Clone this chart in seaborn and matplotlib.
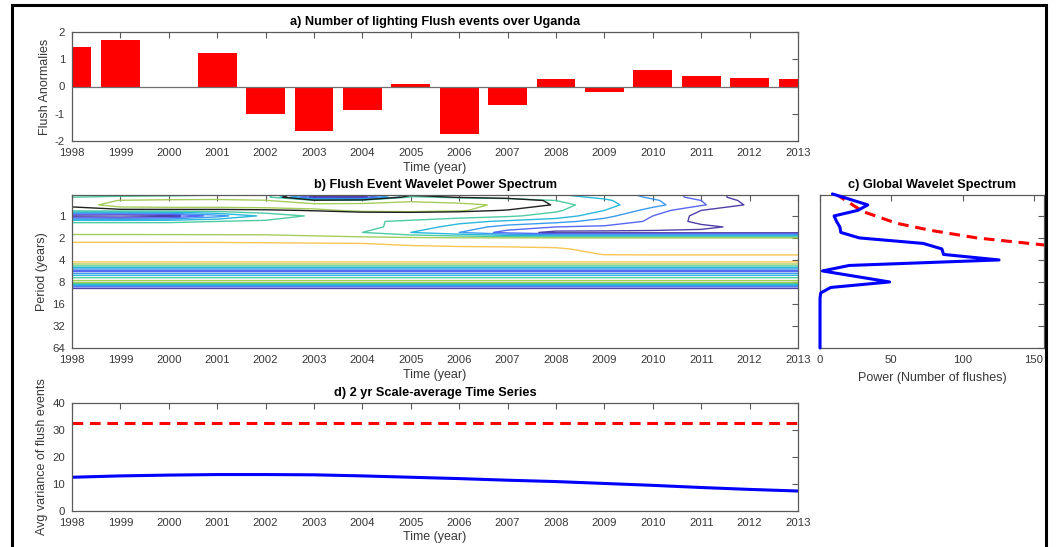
import numpy as np
import pandas as pd
import matplotlib
matplotlib.use("Agg")
import matplotlib.pyplot as plt
import seaborn as sns
from matplotlib.patches import Rectangle

# ---------------- data ----------------
years = list(range(1998, 2014))
flush_anomalies = [1.44, 1.72, 0.0, 1.22, -1.0, -1.65, -0.88, 0.09, -1.75, -0.67,
                   0.26, -0.22, 0.61, 0.38, 0.32, 0.27]

# wavelet power (rows: log2 period, columns: years)
wps_log2_period = [-1.0, -0.85, -0.7, -0.5, -0.25, 0.0, 0.25, 0.5, 0.75, 1.0, 1.25, 1.5, 1.75]
wps_power_short = [
    [14, 9, 9, 12, 20, 4, 4, 9, 9, 9, 8, 6, 3, 1.5, 0.7, 0.5],
    [16, 20, 24, 26, 22, 0.7, 0.7, 18, 14, 12, 10, 7, 3.5, 1.5, 0.7, 0.5],
    [20, 33, 35, 35, 33, 20, 22, 30, 28, 24, 16, 9, 4.5, 2.0, 0.8, 0.5],
    [26, 38, 40, 40, 40, 38, 38, 38, 35, 30, 22, 10, 5, 2.2, 0.9, 0.6],
    [22, 24, 24, 24, 26, 30, 34, 34, 33, 28, 18, 8, 3, 1.0, 0.6, 0.5],
    [0.6, 0.5, 0.7, 3, 10, 18, 24, 26, 22, 18, 12, 5, 2, 0.8, 0.6, 0.5],
    [15, 15, 15, 16, 18, 20, 18, 14, 10, 7, 5, 3, 1.8, 0.8, 0.6, 0.5],
    [20, 20, 20, 21, 22, 22, 20, 12, 6, 3, 2, 1.8, 1.5, 1.2, 0.8, 0.6],
    [26, 26, 26, 26, 26, 22, 16, 8, 4, 1.5, 0.8, 0.8, 0.8, 0.8, 0.8, 0.8],
    [45, 45, 44, 43, 42, 40, 38, 36, 34, 33, 32, 32, 32, 32, 32, 32],
    [70, 70, 70, 70, 68, 66, 64, 58, 55, 55, 52, 50, 48, 46, 45, 45],
    [80, 80, 80, 80, 80, 80, 78, 75, 72, 70, 68, 55, 52, 52, 52, 52],
    [100, 100, 100, 100, 100, 100, 100, 100, 100, 100, 100, 62, 60, 60, 60, 60],
]
# long periods: power does not change with time
wps_log2_period_long = [2.0, 2.25, 2.5, 2.75, 3.0, 3.25, 3.5, 3.75, 4.0, 5.0, 6.0]
wps_power_long = [120, 20, 1.6, 12, 45, 1.3, 0.3, 0.1, 0.05, 0.05, 0.05]

# global wavelet spectrum
gws_log2_period = [-1.0, -0.5, -0.25, 0.0, 0.25, 0.5, 0.75, 1.0, 1.25, 1.5, 1.75,
                   2.0, 2.25, 2.5, 3.0, 3.25, 3.5, 3.75, 6.0]
gws_power = [8.7, 33.5, 26.4, 9.9, 11.6, 13.9, 14.6, 27.6, 72.4, 85.4, 86.6,
             125.5, 20.5, 1.7, 48.8, 7.5, 0.5, 0.0, 0.0]
signif_log2_period = [-1.0, -0.2, 0.33, 0.65, 1.0, 1.32, 1.5]
signif_power = [11, 30, 53.5, 77, 110, 157, 185]

# 2 yr scale-average time series
scale_avg = [12.5, 13.0, 13.3, 13.5, 13.5, 13.4, 13.0, 12.5, 12.0, 11.4,
             10.9, 10.2, 9.5, 8.7, 8.0, 7.4]
scale_avg_signif = 32.5

period_ticks = [1, 2, 4, 8, 16, 32, 64]

# ---------------- style ----------------
sns.set_theme(style="white")
plt.rcParams['font.family'] = ['Liberation Sans', 'DejaVu Sans']
plt.rcParams['axes.unicode_minus'] = False

W, H = 1061, 547
fig = plt.figure(figsize=(W / 100, H / 100), dpi=100)
fig.patch.set_facecolor('white')


def px_axes(x0, y0, x1, y1):
    return fig.add_axes([x0 / W, 1 - y1 / H, (x1 - x0) / W, (y1 - y0) / H])


AX_COL = '#5a5a5a'
TXT_COL = '#383838'


def style(ax):
    for s in ax.spines.values():
        s.set_color(AX_COL)
        s.set_linewidth(0.9)
    ax.tick_params(direction='in', length=4.5, width=0.8, color=AX_COL,
                   labelsize=8.2, labelcolor=TXT_COL, top=True, right=True, pad=5)
    ax.grid(False)


TITLE_KW = dict(fontsize=9.2, fontweight='bold', color='black', pad=5)
LABEL_KW = dict(fontsize=9, color=TXT_COL)

parula7 = ['#3e2a9f', '#4757f0', '#2790f0', '#12b0d8', '#3cc69a', '#9bc84a', '#f5c040']

# ---------------- panel a ----------------
ax_a = px_axes(72, 32, 798, 141)
df_a = pd.DataFrame({'year': years, 'anom': flush_anomalies})
sns.barplot(data=df_a, x='year', y='anom', native_scale=True, color='#ff0000',
            saturation=1, width=0.8, errorbar=None, edgecolor='none', ax=ax_a)
ax_a.axhline(0, color='#707070', lw=0.9, zorder=3)
ax_a.set_xlim(1998, 2013)
ax_a.set_ylim(-2, 2)
ax_a.set_xticks(years)
ax_a.set_xticklabels([str(y) for y in years])
ax_a.set_yticks([-2, -1, 0, 1, 2])
style(ax_a)
ax_a.set_title('a) Number of lighting Flush events over Uganda', **TITLE_KW)
ax_a.set_xlabel('Time (year)', labelpad=3, **LABEL_KW)
ax_a.set_ylabel('Flush Anormalies', labelpad=3, **LABEL_KW)

# ---------------- panel b ----------------
ax_b = px_axes(72, 195, 798, 348)
rows = np.array(wps_log2_period + wps_log2_period_long)
power = np.vstack([np.array(wps_power_short, dtype=float),
                   np.tile(np.array(wps_power_long, dtype=float)[:, None], (1, len(years)))])
ax_b.contour(years, rows, np.log2(power), levels=list(range(7)),
             colors=parula7, linewidths=1.0, alpha=0.9)
sig_rows = np.interp(rows, signif_log2_period, signif_power)
ax_b.contour(years, rows, power / sig_rows[:, None], levels=[1.0],
             colors='#202020', linewidths=1.0)
ax_b.set_xlim(1998, 2013)
ax_b.set_ylim(6, -0.95)
ax_b.set_xticks(years)
ax_b.set_xticklabels([str(y) for y in years])
ax_b.set_yticks(np.log2(period_ticks))
ax_b.set_yticklabels([str(p) for p in period_ticks])
style(ax_b)
ax_b.set_title('b) Flush Event Wavelet Power Spectrum', **TITLE_KW)
ax_b.set_xlabel('Time (year)', labelpad=3, **LABEL_KW)
ax_b.set_ylabel('Period (years)', labelpad=3, **LABEL_KW)

# ---------------- panel c ----------------
ax_c = px_axes(820, 195, 1044, 348)
sns.lineplot(x=gws_power, y=gws_log2_period, sort=False, estimator=None,
             color='#0000ff', lw=2.2, ax=ax_c)
ax_c.lines[-1].set_clip_on(False)
ax_c.lines[-1].set_zorder(5)
sns.lineplot(x=signif_power, y=signif_log2_period, sort=False, estimator=None,
             color='#ff0000', lw=2.2, ax=ax_c)
ax_c.lines[-1].set_linestyle((0, (3.5, 2.2)))
ax_c.set_xlim(0, 157)
ax_c.set_ylim(6, -0.95)
ax_c.set_xticks([0, 50, 100, 150])
ax_c.set_yticks(np.log2(period_ticks))
ax_c.set_yticklabels([])
style(ax_c)
ax_c.set_title('c) Global Wavelet Spectrum', **TITLE_KW)
ax_c.set_xlabel('Power (Number of flushes)', labelpad=5, **LABEL_KW)
ax_c.set_ylabel('')

# ---------------- panel d ----------------
ax_d = px_axes(72, 403, 798, 511)
sns.lineplot(x=years, y=scale_avg, color='#0000ff', lw=2.2, ax=ax_d)
ax_d.axhline(scale_avg_signif, color='#ff0000', lw=2.2, ls=(0, (3.5, 2.2)))
ax_d.set_xlim(1998, 2013)
ax_d.set_ylim(0, 40)
ax_d.set_xticks(years)
ax_d.set_xticklabels([str(y) for y in years])
ax_d.set_yticks([0, 10, 20, 30, 40])
style(ax_d)
ax_d.set_title('d) 2 yr Scale-average Time Series', **TITLE_KW)
ax_d.set_xlabel('Time (year)', labelpad=2, **LABEL_KW)
ax_d.set_ylabel('Avg variance of flush events', labelpad=3, **LABEL_KW)

# ---------------- outer frame ----------------
fig.add_artist(Rectangle((11.5 / W, -0.05), (1046 - 11.5) / W, 1.05 - 5 / H,
                         transform=fig.transFigure, fill=False, lw=2.2,
                         ec='black', zorder=10))

fig.savefig('out.png', dpi=100, facecolor='white')
